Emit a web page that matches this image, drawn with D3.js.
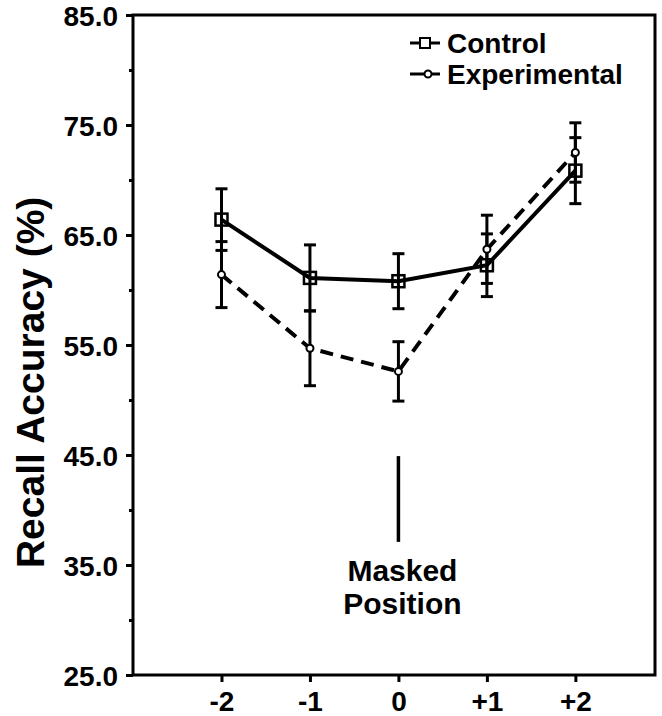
<!DOCTYPE html>
<html>
<head>
<meta charset="utf-8">
<script src="https://cdn.jsdelivr.net/npm/d3@7"></script>
<style>
  body { margin: 0; background: #fff; }
  text { font-family: "Liberation Sans", Arial, sans-serif; font-weight: bold; fill: #000; }
</style>
</head>
<body>
<div class="chart"></div>
<script>
var svgWidth = 662;
var svgHeight = 716;

// plot frame in pixels
var margin = { top: 15, right: 7, bottom: 41, left: 133 };
var width = svgWidth - margin.left - margin.right;
var height = svgHeight - margin.top - margin.bottom;

// data
var positions = [-2, -1, 0, 1, 2];
var positionLabels = ["-2", "-1", "0", "+1", "+2"];
var controlMeans = [66.4, 61.1, 60.8, 62.25, 70.85];
var controlErr = [2.8, 3.0, 2.5, 2.85, 3.0];
var expMeans = [61.4, 54.7, 52.6, 63.7, 72.5];
var expErr = [3.0, 3.4, 2.7, 3.1, 2.7];
var yMajorTicks = [25, 35, 45, 55, 65, 75, 85];
var yMinorTicks = [30, 40, 50, 60, 70, 80];

var svg = d3.select(".chart")
  .append("svg")
  .attr("width", svgWidth)
  .attr("height", svgHeight);

var chartGroup = svg.append("g")
  .attr("transform", `translate(${margin.left}, ${margin.top})`);

var xScale = d3.scaleLinear().domain([-3, 2.9]).range([0, width]);
var yScale = d3.scaleLinear().domain([25, 85]).range([height, 0]);

// frame
chartGroup.append("rect")
  .attr("x", 0).attr("y", 0)
  .attr("width", width).attr("height", height)
  .attr("fill", "none")
  .attr("stroke", "#000")
  .attr("stroke-width", 3);

// y axis, major ticks with labels
var leftAxis = d3.axisLeft(yScale)
  .tickValues(yMajorTicks)
  .tickSize(7)
  .tickPadding(8)
  .tickFormat(d3.format(".1f"));
var yAxis = chartGroup.append("g").call(leftAxis);
yAxis.select(".domain").remove();
yAxis.selectAll("line").attr("stroke-width", 3);
yAxis.selectAll("text")
  .style("font-size", "28px")
  .attr("dy", "0.38em");

// y minor ticks
var yMinor = chartGroup.append("g")
  .call(d3.axisLeft(yScale).tickValues(yMinorTicks).tickSize(4).tickFormat(""));
yMinor.select(".domain").remove();
yMinor.selectAll("line").attr("stroke-width", 3);

// x axis
var bottomAxis = d3.axisBottom(xScale)
  .tickValues(positions)
  .tickSize(7)
  .tickPadding(9)
  .tickFormat((d, i) => positionLabels[i]);
var xAxis = chartGroup.append("g")
  .attr("transform", `translate(0, ${height})`)
  .call(bottomAxis);
xAxis.select(".domain").remove();
xAxis.selectAll("line").attr("stroke-width", 3);
xAxis.selectAll("text")
  .style("font-size", "28px");

// y axis title
chartGroup.append("text")
  .attr("transform", "rotate(-90)")
  .attr("x", -yScale(51.6))
  .attr("y", 30 - margin.left)
  .attr("dy", "0.36em")
  .attr("text-anchor", "middle")
  .style("font-size", "39px")
  .text("Recall Accuracy (%)");

// masked position marker
chartGroup.append("line")
  .attr("x1", xScale(0)).attr("x2", xScale(0))
  .attr("y1", yScale(44.9)).attr("y2", yScale(37.1))
  .attr("stroke", "#000")
  .attr("stroke-width", 3.5);
chartGroup.append("text")
  .attr("x", xScale(0) + 4)
  .attr("y", yScale(34.5))
  .attr("dy", "0.36em")
  .attr("text-anchor", "middle")
  .style("font-size", "30px")
  .text("Masked");
chartGroup.append("text")
  .attr("x", xScale(0) + 4)
  .attr("y", yScale(31.5))
  .attr("dy", "0.36em")
  .attr("text-anchor", "middle")
  .style("font-size", "30px")
  .text("Position");

var control = positions.map((p, i) => ({ x: p, y: controlMeans[i], e: controlErr[i] }));
var experimental = positions.map((p, i) => ({ x: p, y: expMeans[i], e: expErr[i] }));

// error bars for both series
function drawErrorBars(data) {
  var g = chartGroup.append("g");
  data.forEach(function(d) {
    var cx = xScale(d.x);
    g.append("line")
      .attr("x1", cx).attr("x2", cx)
      .attr("y1", yScale(d.y - d.e)).attr("y2", yScale(d.y + d.e))
      .attr("stroke", "#000").attr("stroke-width", 3);
    [d.y - d.e, d.y + d.e].forEach(function(v) {
      g.append("line")
        .attr("x1", cx - 6).attr("x2", cx + 6)
        .attr("y1", yScale(v)).attr("y2", yScale(v))
        .attr("stroke", "#000").attr("stroke-width", 3);
    });
  });
}
drawErrorBars(control);
drawErrorBars(experimental);

var line = d3.line()
  .x(d => xScale(d.x))
  .y(d => yScale(d.y));

chartGroup.append("path")
  .datum(experimental)
  .attr("d", line)
  .attr("fill", "none")
  .attr("stroke", "#000")
  .attr("stroke-width", 4)
  .attr("stroke-dasharray", "13,8");

chartGroup.append("path")
  .datum(control)
  .attr("d", line)
  .attr("fill", "none")
  .attr("stroke", "#000")
  .attr("stroke-width", 4);

// markers
chartGroup.selectAll(".sq")
  .data(control)
  .enter()
  .append("rect")
  .attr("x", d => xScale(d.x) - 6)
  .attr("y", d => yScale(d.y) - 6)
  .attr("width", 12).attr("height", 12)
  .attr("fill", "none")
  .attr("stroke", "#000")
  .attr("stroke-width", 2.5);

chartGroup.selectAll(".dot")
  .data(experimental)
  .enter()
  .append("circle")
  .attr("cx", d => xScale(d.x))
  .attr("cy", d => yScale(d.y))
  .attr("r", 3.5)
  .attr("fill", "#fff")
  .attr("stroke", "#000")
  .attr("stroke-width", 2);

// legend
var legend = svg.append("g").attr("transform", "translate(410, 43)");
legend.append("line")
  .attr("x1", 0).attr("x2", 30).attr("y1", 0).attr("y2", 0)
  .attr("stroke", "#000").attr("stroke-width", 3);
legend.append("rect")
  .attr("x", 10).attr("y", -5).attr("width", 10).attr("height", 10)
  .attr("fill", "#fff").attr("stroke", "#000").attr("stroke-width", 2);
legend.append("text")
  .attr("x", 37).attr("y", 0).attr("dy", "0.36em")
  .style("font-size", "28px")
  .text("Control");

legend.append("line")
  .attr("x1", 0).attr("x2", 30).attr("y1", 31).attr("y2", 31)
  .attr("stroke", "#000").attr("stroke-width", 3);
legend.append("circle")
  .attr("cx", 18).attr("cy", 31).attr("r", 3.5)
  .attr("fill", "#fff").attr("stroke", "#000").attr("stroke-width", 2);
legend.append("text")
  .attr("x", 37).attr("y", 31).attr("dy", "0.36em")
  .style("font-size", "28px")
  .text("Experimental");
</script>
</body>
</html>
